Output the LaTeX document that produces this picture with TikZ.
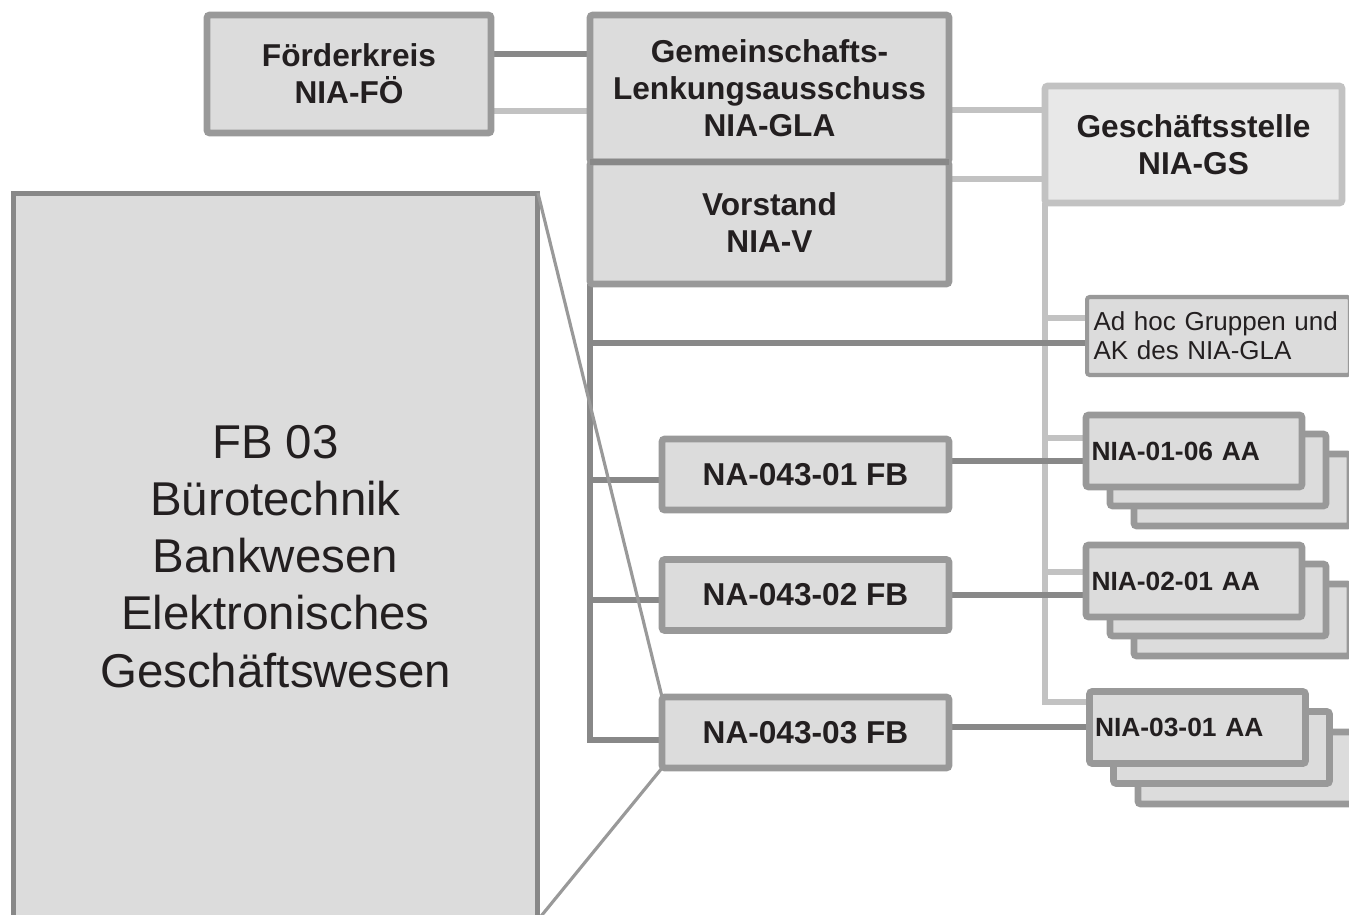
\documentclass[tikz,border=0pt]{standalone}
\usepackage{fontspec}
\setmainfont{Liberation Sans}
\usetikzlibrary{positioning,backgrounds}
\definecolor{niafill}{HTML}{DCDCDC}
\definecolor{niaedge}{HTML}{999999}
\definecolor{niadark}{HTML}{888888}
\definecolor{nialight}{HTML}{C2C2C2}
\definecolor{niagsfill}{HTML}{E8E8E8}
\definecolor{niatext}{HTML}{231F20}
\tikzset{
  box/.style={rounded corners=1.5pt,draw=niaedge,fill=niafill,line width=3.8pt,outer sep=0pt,align=center,inner sep=3pt,text=niatext,font=\fontsize{18}{21}\selectfont\bfseries},
  gsbox/.style={box,fill=niagsfill,draw=nialight},
  adbox/.style={box,line width=2.3pt,text width=5cm,align=left,font=\fontsize{14.8}{16.5}\selectfont},
  aabox/.style={box,minimum width=4.32cm,minimum height=1.44cm,text width=4.1cm,align=left,font=\fontsize{15}{17}\selectfont\bfseries},
  nabox/.style={box,minimum width=5.74cm,minimum height=1.42cm},
  fbbox/.style={box,rounded corners=0pt,draw=niadark,line width=2.8pt,font=\fontsize{27}{32.5}\selectfont},
  ln/.style={draw=niadark,line width=3.8pt},
  lnl/.style={draw=nialight,line width=3.8pt},
  zoomln/.style={draw=niaedge,line width=1.8pt},
}
\begin{document}
\begin{tikzpicture}[x=0.02cm,y=-0.02cm]
    \useasboundingbox (0,0) rectangle (1349,914);
    \node[box,minimum width=5.68cm,minimum height=2.36cm] (fk) at (349,74) {Förderkreis\\NIA-FÖ};
    \node[box,minimum width=7.18cm,minimum height=2.94cm] (gla) at (769.5,88.5) {Gemeinschafts-\\Lenkungsausschuss\\NIA-GLA};
    \node[box,minimum width=7.18cm,minimum height=2.44cm,below=0pt of gla] (vst) {Vorstand\\NIA-V};
    \draw[ln] (gla.south west) -- (gla.south east);
    \node[gsbox,minimum width=5.94cm,minimum height=2.34cm] (gs) at (1193.5,144.5) {Geschäftsstelle\\NIA-GS};
    \node[adbox,minimum width=5.26cm,minimum height=1.56cm] (adhoc) at (1218.5,336) {Ad hoc Gruppen und\\AK des NIA-GLA};
    \node[fbbox,minimum width=10.5cm,minimum height=14.54cm] (fb) at (275.5,556.5) {FB 03\\Bürotechnik\\Bankwesen\\Elektronisches\\Geschäftswesen};
    % Fachbereiche
    \node[nabox] (na1) at (805.5,474.5) {NA-043-01 FB};
    \node[nabox] (na2) at (805.5,595) {NA-043-02 FB};
    \node[nabox] (na3) at (805.5,732.5) {NA-043-03 FB};
    % Arbeitsausschuesse, gestapelt
    \node[aabox] (aa1c) at (1242,490) {};
    \node[aabox] (aa1b) at (1218,470) {};
    \node[aabox] (aa1) at (1194,451) {NIA-01-06 AA};
    \node[aabox] (aa2c) at (1242,620) {};
    \node[aabox] (aa2b) at (1218,600) {};
    \node[aabox] (aa2) at (1194,581) {NIA-02-01 AA};
    \node[aabox] (aa3c) at (1246,768) {};
    \node[aabox] (aa3b) at (1221.5,747.5) {};
    \node[aabox] (aa3) at (1197.5,727.5) {NIA-03-01 AA};
    \begin{pgfonlayer}{background}
      \draw[ln] (fk.east |- 0,54) -- (gla.west |- 0,54);
      \draw[lnl] (fk.east |- 0,111) -- (gla.west |- 0,111);
      \draw[lnl] (gla.east |- 0,110) -- (gs.west |- 0,110);
      \draw[lnl] (vst.east |- 0,179) -- (gs.west |- 0,179);
      \draw[lnl] (gs.south west) |- (adhoc.west |- 0,318);
      \draw[lnl] (gs.south west) |- (aa1.west |- 0,438);
      \draw[lnl] (gs.south west) |- (aa2.west |- 0,572);
      \draw[lnl] (gs.south west) |- (aa3.west |- 0,702);
      \draw[ln] (vst.south west) |- (adhoc.west |- 0,343);
      \draw[ln] (vst.south west) |- (na1.west |- 0,480);
      \draw[ln] (vst.south west) |- (na2.west |- 0,600);
      \draw[ln] (vst.south west) |- (na3.west |- 0,740);
      \draw[ln] (na1.east |- 0,461) -- (aa1.west |- 0,461);
      \draw[ln] (na2.east |- 0,595) -- (aa2.west |- 0,595);
      \draw[ln] (na3.east |- 0,727) -- (aa3.west |- 0,727);
    \end{pgfonlayer}
    \draw[zoomln] (fb.north east) -- (na3.north west);
    \draw[zoomln] (fb.south east) -- (na3.south west);
  \end{tikzpicture}
\end{document}
